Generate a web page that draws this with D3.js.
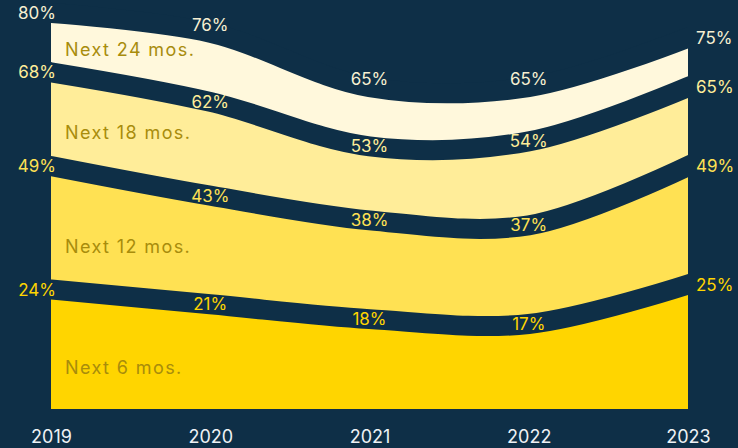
<!DOCTYPE html>
<html>
<head>
<meta charset="utf-8">
<script src="https://cdn.jsdelivr.net/npm/d3@7"></script>
<style>
html,body{margin:0;padding:0;background:#0e2f47;}
svg{display:block;}
text{font-family:Inter,"Noto Sans",sans-serif;}
</style>
</head>
<body>
<svg id="chart" width="738" height="448"></svg>
<script>
const years = ["2019","2020","2021","2022","2023"];
const seriesNames = ["Next 24 mos.","Next 18 mos.","Next 12 mos.","Next 6 mos."];
const next24 = [80,76,65,65,75];
const next18 = [68,62,53,54,65];
const next12 = [49,43,38,37,49];
const next6  = [24,21,18,17,25];
const fills = ["#fff8dc","#ffed99","#ffe153","#ffd500"];
const labelColors = ["#f6efd2","#ffed99","#ffe153","#ffd500"];
const bg = "#0e2f47";

const series = [next24,next18,next12,next6].map((v,i)=>({name:seriesNames[i],values:v,fill:fills[i],lc:labelColors[i]}));

const svg = d3.select("#chart");
const x = d3.scalePoint().domain(years).range([51,688]);
const y = d3.scaleLinear().domain([0,80]).range([408,13]);

svg.append("defs").append("clipPath").attr("id","clip")
  .append("rect").attr("x",51).attr("y",0).attr("width",637).attr("height",409);

const g = svg.append("g").attr("clip-path","url(#clip)");
const curve = d3.curveCatmullRom.alpha(0.5);
const area = d3.area().x((d,i)=>x(years[i])).y0(409).y1(d=>y(d)).curve(curve);
const line = d3.line().x((d,i)=>x(years[i])).y(d=>y(d)).curve(curve);

series.forEach(s=>{
  g.append("path").attr("d",area(s.values)).attr("fill",s.fill);
  g.append("path").attr("d",line(s.values)).attr("fill","none").attr("stroke",bg)
    .attr("stroke-width",20).attr("stroke-linecap","square");
});

// band labels
const bandLabelY = [56,139,253,374];
series.forEach((s,i)=>{
  svg.append("text").attr("x",65).attr("y",bandLabelY[i])
    .attr("fill","#a88c0c").attr("font-size",18).attr("letter-spacing",1.4)
    .text(s.name);
});

// value labels
series.forEach((s,si)=>{
  s.values.forEach((v,i)=>{
    let anchor="middle", xx=x(years[i]), dy=0;
    if(i===0){anchor="end"; xx=56;}
    else if(i===years.length-1){anchor="start"; xx=696;}
    else if(si===0){dy=-8;}
    svg.append("text").attr("x",xx).attr("y",y(v)+dy).attr("dy","0.36em")
      .attr("text-anchor",anchor).attr("fill",s.lc).attr("font-size",17)
      .text(v+"%");
  });
});

// x axis labels
const xAxis = d3.axisBottom(x).tickSize(0).tickPadding(0);
const ax = svg.append("g").attr("transform","translate(0,430)").call(xAxis);
ax.select(".domain").remove();
ax.selectAll("text").attr("fill","#eef2f5").attr("font-size",18)
  .attr("font-family","Inter, 'Noto Sans', sans-serif").attr("dy","0.71em");
</script>
</body>
</html>
